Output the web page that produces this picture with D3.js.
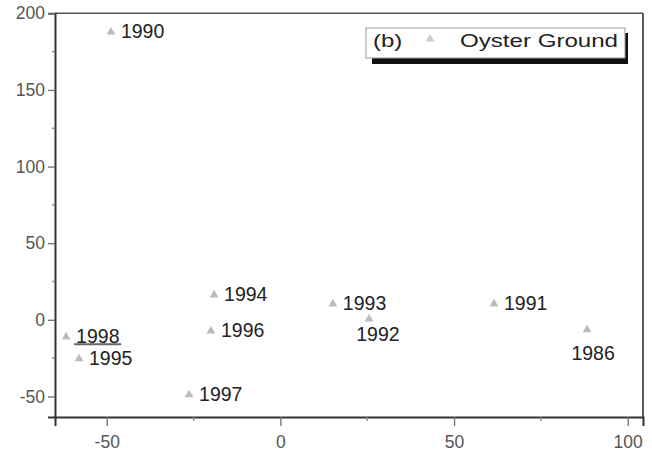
<!DOCTYPE html>
<html><head><meta charset="utf-8">
<script src="https://cdn.jsdelivr.net/npm/d3@7"></script>
<style>body{margin:0;background:#fff}svg{display:block;font-family:"Liberation Sans",Arial,sans-serif}</style>
</head><body><svg id="c" width="652" height="452"></svg>
<script>
const years = ["1990","1998","1995","1994","1996","1997","1993","1992","1991","1986"];
const xVals = [-48.8, -61.7, -58, -19.1, -20, -26.3, 15.1, 25.5, 61.5, 88.3];
const yVals = [187.8, -11.1, -25.4, 16.3, -7.2, -48.9, 10.4, 0.5, 10.4, -6.5];
const xTicks = [-50, 0, 50, 100];
const yTicks = [-50, 0, 50, 100, 150, 200];
const xMinor = [-25, 25, 75];
const yMinor = [-25, 25, 75, 125, 175];
const legendLabel = "(b)";
const seriesName = "Oyster Ground";

// label placement (layout only)
const below = {"1992": [9, 22], "1986": [6, 30]};

const svg = d3.select("#c");
const L = 55, R = 643, T = 13.3, B = 417;
const x = d3.scaleLinear().domain([-64.9, 104.4]).range([L, R]);
const y = d3.scaleLinear().domain([-63.4, 200]).range([B, T]);
const fmt = d => String(d);

// frame top/right
svg.append("line").attr("x1", L).attr("x2", R).attr("y1", T).attr("y2", T).attr("stroke", "#555").attr("stroke-width", 1.5);
svg.append("line").attr("x1", R).attr("x2", R).attr("y1", T).attr("y2", B).attr("stroke", "#333").attr("stroke-width", 1.6);

// axes
const xAxis = d3.axisBottom(x).tickValues(xTicks).tickSize(9).tickPadding(10).tickFormat(fmt);
const gx = svg.append("g").attr("transform", `translate(0,${B})`).call(xAxis);
gx.select(".domain").attr("stroke", "#333").attr("stroke-width", 2);
gx.selectAll(".tick line").attr("stroke", "#777").attr("stroke-width", 1.4);
gx.selectAll(".tick text").attr("fill", "#555").attr("font-size", 17.5).attr("font-family", "Liberation Sans, Arial, sans-serif");
gx.selectAll(".minor").data(xMinor).enter().append("line").attr("x1", d => x(d)).attr("x2", d => x(d)).attr("y1", 0).attr("y2", 4).attr("stroke", "#888").attr("stroke-width", 1.4);

const yAxis = d3.axisLeft(y).tickValues(yTicks).tickSize(7).tickPadding(3).tickFormat(fmt);
const gy = svg.append("g").attr("transform", `translate(${L},0)`).call(yAxis);
gy.select(".domain").attr("stroke", "#333").attr("stroke-width", 2);
gy.selectAll(".tick line").attr("stroke", "#777").attr("stroke-width", 1.4);
gy.selectAll(".tick text").attr("fill", "#555").attr("font-size", 17.5).attr("font-family", "Liberation Sans, Arial, sans-serif");
gy.selectAll(".minor").data(yMinor).enter().append("line").attr("x1", -3).attr("x2", 0).attr("y1", d => y(d)).attr("y2", d => y(d)).attr("stroke", "#888").attr("stroke-width", 1.4);

// points
const tri = d3.symbol().type(d3.symbolTriangle).size(34);
const pts = years.map((yr, i) => ({yr, x: xVals[i], y: yVals[i]}));
const g = svg.append("g");
g.selectAll("path").data(pts).enter().append("path")
  .attr("d", tri).attr("transform", d => `translate(${x(d.x)},${y(d.y)})`).attr("fill", "#bbb");
g.selectAll("text").data(pts).enter().append("text")
  .attr("x", d => below[d.yr] ? x(d.x) + below[d.yr][0] : x(d.x) + 10)
  .attr("y", d => below[d.yr] ? y(d.y) + below[d.yr][1] : y(d.y) + 6)
  .attr("text-anchor", d => below[d.yr] ? "middle" : "start")
  .attr("font-size", 19.5).attr("fill", "#222").text(d => d.yr);

// underline under 1998
const p98 = pts[1];
svg.append("line").attr("x1", x(p98.x) + 8).attr("x2", x(p98.x) + 55).attr("y1", y(p98.y) + 7.5).attr("y2", y(p98.y) + 7.5).attr("stroke", "#666").attr("stroke-width", 2);

// legend
const lg = svg.append("g").attr("transform", "translate(366,28)");
lg.append("rect").attr("x", 6).attr("y", 5).attr("width", 256).attr("height", 31).attr("fill", "#111");
lg.append("rect").attr("x", 0).attr("y", 0).attr("width", 259).attr("height", 30).attr("fill", "#fff").attr("stroke", "#999").attr("stroke-width", 1);
lg.append("text").attr("transform", "translate(7,19) scale(1.3,1)").attr("font-size", 18.5).attr("fill", "#222").text(legendLabel);
lg.append("path").attr("d", tri).attr("transform", "translate(64,11)").attr("fill", "#ccc");
lg.append("text").attr("x", 94).attr("y", 19).attr("font-size", 18.5).attr("fill", "#222")
  .attr("textLength", 158).attr("lengthAdjust", "spacingAndGlyphs").text(seriesName);
</script></body></html>
